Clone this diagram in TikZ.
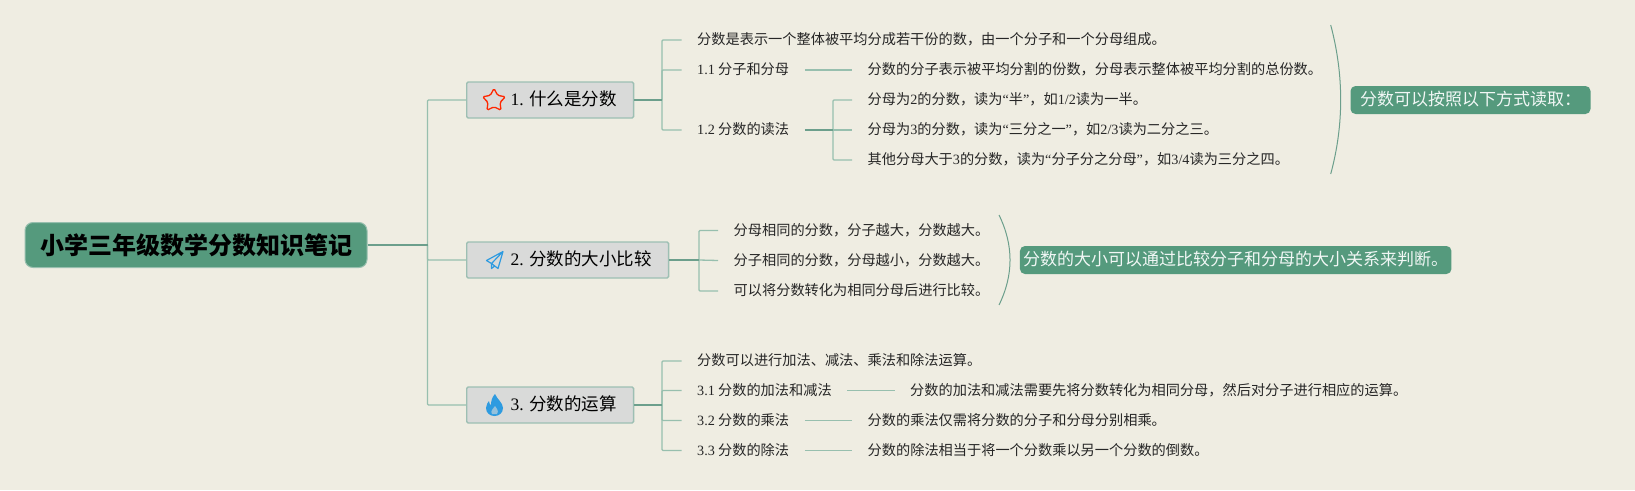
\documentclass[tikz,border=0pt]{standalone}
\usepackage{fontspec}
\setmainfont{Noto Sans CJK SC}
\newfontfamily\latfont{Liberation Serif}
\newcommand{\lat}[1]{{\latfont #1}}
\usetikzlibrary{shapes.geometric}
\definecolor{paper}{HTML}{EFEDE2}
\definecolor{mossy}{HTML}{559A7D}
\definecolor{linelight}{HTML}{97BFAE}
\definecolor{linedark}{HTML}{6C9F8C}
\definecolor{boxgrey}{HTML}{D9DAD9}
\definecolor{boxedge}{HTML}{9DBFB3}
\definecolor{iconblue}{HTML}{2E9BE0}
\begin{document}
\begin{tikzpicture}[x=1pt, y=-1pt,
  root/.style={fill=mossy, draw=linelight, line width=1pt, rounded corners=8pt, minimum width=342pt, minimum height=45pt, inner sep=0pt, font=\fontsize{24}{28}\selectfont\bfseries},
  topic/.style={fill=boxgrey, draw=boxedge, line width=1.4pt, rounded corners=1.5pt, minimum height=36pt, inner xsep=17pt, inner ysep=0pt, anchor=west, text height=14pt, text depth=3pt, font=\fontsize{17.5}{20}\selectfont},
  leaf/.style={inner xsep=15.5pt, inner ysep=0pt, anchor=west, text height=12pt, text depth=2.5pt, text=black!85, font=\fontsize{14.2}{17}\selectfont},
  callout/.style={fill=mossy, rounded corners=5pt, minimum height=28pt, inner sep=0pt, text=white!92!mossy, text height=13.5pt, text depth=3pt, font=\fontsize{17}{20}\selectfont},
  link/.style={linelight, line width=1.3pt, rounded corners=1pt},
  stem/.style={linedark, line width=1.6pt},
  arc/.style={linedark, line width=1pt}]

\useasboundingbox (0,0) rectangle (1635,490);
\fill[paper] (0,0) rectangle (1635,490);

% Nodes
\node[root] (root) at (196,245) {小学三年级数学分数知识笔记};
\node[topic] (t1) at (466,100) {\hspace*{27pt}\lat{1.} 什么是分数};
\node[topic] (t2) at (466,260) {\hspace*{27pt}\lat{2.} 分数的大小比较};
\node[topic] (t3) at (466,405) {\hspace*{27pt}\lat{3.} 分数的运算};

% Topic 1
\node[leaf] (a0) at (681.5,40) {分数是表示一个整体被平均分成若干份的数，由一个分子和一个分母组成。};
\node[leaf] (a1) at (681.5,70) {\lat{1.1} 分子和分母};
\node[leaf] (a2) at (681.5,130) {\lat{1.2} 分数的读法};
\node[leaf] (a11) at (852,70) {分数的分子表示被平均分割的份数，分母表示整体被平均分割的总份数。};
\node[leaf] (a21) at (852,100) {分母为\lat{2}的分数，读为\lat{“}半\lat{”}，如\lat{1/2}读为一半。};
\node[leaf] (a22) at (852,130) {分母为\lat{3}的分数，读为\lat{“}三分之一\lat{”}，如\lat{2/3}读为二分之三。};
\node[leaf] (a23) at (852,160) {其他分母大于\lat{3}的分数，读为\lat{“}分子分之分母\lat{”}，如\lat{3/4}读为三分之四。};
\node[callout, minimum width=240pt] (c1) at (1470.5,100) {分数可以按照以下方式读取：};

% Topic 2
\node[leaf] (b0) at (718,230.5) {分母相同的分数，分子越大，分数越大。};
\node[leaf] (b1) at (718,260.5) {分子相同的分数，分母越小，分数越大。};
\node[leaf] (b2) at (718,291) {可以将分数转化为相同分母后进行比较。};
\node[callout, minimum width=431.5pt] (c2) at (1235.7,260) {分数的大小可以通过比较分子和分母的大小关系来判断。};

% Topic 3
\node[leaf] (d0) at (681.5,361) {分数可以进行加法、减法、乘法和除法运算。};
\node[leaf] (d1) at (681.5,390.5) {\lat{3.1} 分数的加法和减法};
\node[leaf] (d2) at (681.5,420.5) {\lat{3.2} 分数的乘法};
\node[leaf] (d3) at (681.5,450.5) {\lat{3.3} 分数的除法};
\node[leaf] (d11) at (894.5,390.5) {分数的加法和减法需要先将分数转化为相同分母，然后对分子进行相应的运算。};
\node[leaf] (d21) at (852,420.5) {分数的乘法仅需将分数的分子和分母分别相乘。};
\node[leaf] (d31) at (852,450.5) {分数的除法相当于将一个分数乘以另一个分数的倒数。};

% Junctions
\coordinate (j0) at (427.5,245);
\coordinate (j1) at (662,100);
\coordinate (j2) at (833,130);
\coordinate (j3) at (699,260);
\coordinate (j4) at (662,405);

% Connectors
\draw[link] (j0) |- (t1.west);
\draw[link] (j0) |- (t2.west);
\draw[link] (j0) |- (t3.west);
\draw[stem] (root.east) -- (j0);

\draw[link] (j1) |- (a0.west);
\draw[link] (j1) |- (a1.west);
\draw[link] (j1) |- (a2.west);
\draw[stem] (t1.east) -- (j1);
\draw[link] (a1.east) -- (a11.west);
\draw[link] (j2) |- (a21.west);
\draw[link] (j2) -- (a22.west);
\draw[link] (j2) |- (a23.west);
\draw[stem] (a2.east) -- (j2);

\draw[link] (j3) |- (b0.west);
\draw[link] (j3) -- (b1.west);
\draw[link] (j3) |- (b2.west);
\draw[stem] (t2.east) -- (j3);

\draw[link] (j4) |- (d0.west);
\draw[link] (j4) |- (d1.west);
\draw[link] (j4) |- (d2.west);
\draw[link] (j4) |- (d3.west);
\draw[stem] (t3.east) -- (j4);
\draw[link] (d1.east) -- (d11.west);
\draw[link] (d2.east) -- (d21.west);
\draw[link] (d3.east) -- (d31.west);

% Summary arcs
\draw[arc] (1330.7,25) .. controls (1344,75) and (1344,125) .. (1330.7,174);
\draw[arc] (999,215) .. controls (1013.7,245) and (1013.7,275) .. (999,305);

% Icons
\node[star, star points=5, star point ratio=1.9, draw=red!70!orange, line width=1.3pt, rounded corners=1.5pt, minimum size=24pt, inner sep=0pt] (ic1) at (494,100.5) {};
\draw[iconblue, line width=1.2pt, line join=round] (503,251.5) -- (486.5,260.5) -- (491.5,263.5) -- cycle (503,251.5) -- (498,268.5) -- (491.5,263.5) -- (491.5,268.5) -- (495,265.8);
\fill[iconblue] (495,394) .. controls (497,399) and (503,403) .. (503,408) .. controls (503,413) and (499,416) .. (494.5,416) .. controls (490,416) and (486,413) .. (486,408) .. controls (486,405) and (488,402) .. (489,401) .. controls (489,403) and (490,405) .. (491,405) .. controls (491,401) and (492,397) .. (495,394);
\fill[boxgrey!60!iconblue] (495,406) .. controls (497,409) and (499,411) .. (497,414) -- (492,414) .. controls (490,411) and (493,409) .. (495,406);

\end{tikzpicture}
\end{document}
